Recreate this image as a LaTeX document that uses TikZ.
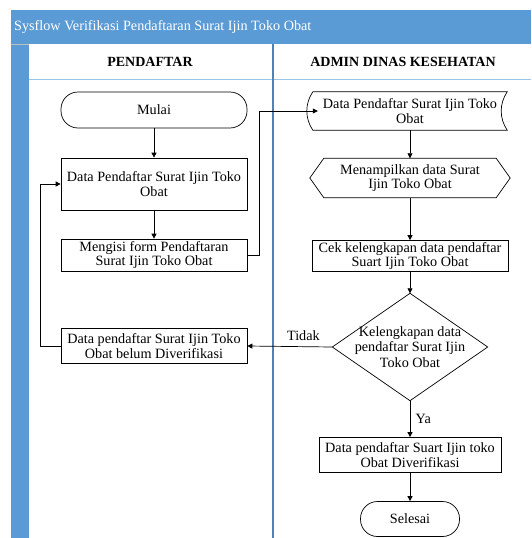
\documentclass[tikz,border=0pt]{standalone}
\usepackage{fontspec}
\setmainfont{Liberation Serif}
\usepackage{tikz}
\usetikzlibrary{arrows.meta}
\definecolor{laneblue}{HTML}{5B9BD5}

\begin{document}
\begin{tikzpicture}[x=1pt,y=-1pt,
		font=\fontsize{14.2}{14.6}\selectfont,
		box/.style={draw, align=center, inner sep=1pt, line width=0.7pt},
		term/.style={draw, rounded corners=17pt, align=center, line width=0.7pt},
		plain/.style={align=center, inner sep=1pt},
		arr/.style={-{Triangle[length=5pt,width=5pt]}, line width=0.7pt}]
		\useasboundingbox (0,0) rectangle (531,538);
		% swimlane frame
		\fill [laneblue] (11,10) rectangle (531,44);
		\fill [laneblue] (11,44) rectangle (29,538);
		\draw [black!25, line width=0.6pt] (11,44) -- (29,44);
		\draw [laneblue!60, line width=0.8pt] (29,79) -- (531,79);
		\draw [laneblue!85!black, line width=1.2pt] (273,44) -- (273,538);
		\node [anchor=west, text=white, inner sep=0pt] (judul) at (14,27) {Sysflow Verifikasi Pendaftaran Surat Ijin Toko Obat};
		\node [font=\fontsize{14}{14}\selectfont\bfseries] (pendaftar) at (150,62) {PENDAFTAR};
		\node [font=\fontsize{14}{14}\selectfont\bfseries] (admin) at (403,62) {ADMIN DINAS KESEHATAN};
		% pendaftar
		\node [term, minimum width=186, minimum height=36] (mulai) at (154,110) {Mulai};
		\node [box, minimum width=186, minimum height=52] (data) at (154,184) {Data Pendaftar Surat Ijin Toko\\Obat};
		\node [box, minimum width=186, minimum height=32] (form) at (154,255) {Mengisi form Pendaftaran\\Surat Ijin Toko Obat};
		\node [box, minimum width=186, minimum height=35] (belum) at (154,346) {Data pendaftar Surat Ijin Toko\\Obat belum Diverifikasi};
		% admin dinas kesehatan
		\node [plain, minimum width=194, minimum height=38] (dp) at (410,111) {Data Pendaftar Surat Ijin Toko\\Obat};
		\draw [line width=0.7pt] (dp.north west) -- (dp.north east) .. controls +(-8,12) and +(-8,-12) .. (dp.south east)
			-- (dp.south west) .. controls +(-8,-12) and +(-8,12) .. (dp.north west);
		\node [plain, minimum width=172, minimum height=39] (tampil) at (410,178) {Menampilkan data Surat\\Ijin Toko Obat};
		\draw [line width=0.7pt] (tampil.north west) -- (tampil.north east) -- ([xshift=14pt]tampil.east) -- (tampil.south east)
			-- (tampil.south west) -- ([xshift=-14pt]tampil.west) -- cycle;
		\node [box, minimum width=196, minimum height=31] (cek) at (410,256) {Cek kelengkapan data pendaftar\\Suart Ijin Toko Obat};
		\node [plain, minimum width=155, minimum height=107, font=\fontsize{14.2}{15.5}\selectfont] (lengkap) at (410,347) {Kelengkapan data\\pendaftar Surat Ijin\\Toko Obat};
		\draw [line width=0.7pt] (lengkap.north) -- (lengkap.east) -- (lengkap.south) -- (lengkap.west) -- cycle;
		\node [box, minimum width=182, minimum height=35] (verif) at (410,455) {Data pendaftar Suart Ijin toko\\Obat Diverifikasi};
		\node [term, minimum width=99, minimum height=35] (selesai) at (410,519) {Selesai};
		% alur
		\draw [arr] (mulai) -- (data);
		\draw [arr] (data) -- (form);
		\draw [arr, shorten >=-5pt] (form.east) -- ++(12,0) |- (dp.west);
		\draw [arr] (dp) -- (tampil);
		\draw [arr] (tampil) -- (cek);
		\draw [arr] (cek) -- (lengkap.north);
		\draw [arr] (lengkap.west) -- node [pos=0.34, above=2pt] (tidak) {Tidak} (belum.east);
		\draw [arr] (lengkap.south) -- node [right=2pt] (ya) {Ya} (verif);
		\draw [arr] (verif) -- (selesai);
		\draw [arr] (belum.west) -- ++(-20,0) |- (data.west);
	\end{tikzpicture}
\end{document}
